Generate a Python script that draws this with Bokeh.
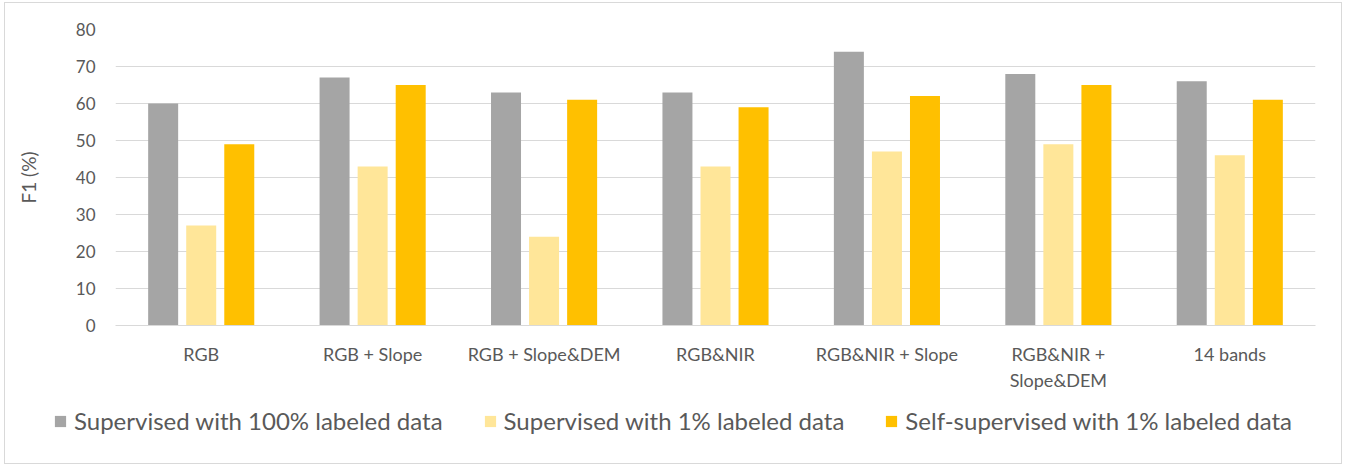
from bokeh.plotting import figure
from bokeh.layouts import column
from bokeh.models import FactorRange, Range1d, FixedTicker, Legend, LegendItem, ColumnDataSource
from bokeh.transform import dodge
from bokeh.embed import file_html
from bokeh.resources import INLINE

categories = ["RGB", "RGB + Slope", "RGB + Slope&DEM", "RGB&NIR", "RGB&NIR + Slope",
              "RGB&NIR +\nSlope&DEM", "14 bands"]
sup_100 = [60, 67, 63, 63, 74, 68, 66]
sup_1 = [27, 43, 24, 43, 47, 49, 46]
selfsup_1 = [49, 65, 61, 59, 62, 65, 61]
series_names = ["Supervised with 100% labeled data", "Supervised with 1% labeled data",
                "Self-supervised with 1% labeled data"]
colors = ["#a5a5a5", "#ffe699", "#ffc000"]
y_ticks = [0, 10, 20, 30, 40, 50, 60, 70, 80]

FONT = "Lato"
TXT = "#595959"

src = ColumnDataSource(dict(cat=categories, a=sup_100, b=sup_1, c=selfsup_1))
cols = ["a", "b", "c"]
offsets = [-0.222, 0.0, 0.222]

p = figure(width=1336, height=390, x_range=FactorRange(*categories, range_padding=0),
           y_range=Range1d(0, 80), output_backend="svg", toolbar_location=None,
           min_border_left=110, min_border_right=26, min_border_top=26, min_border_bottom=64)
p.outline_line_color = None
p.frame_align = False

for col, off, c in zip(cols, offsets, colors):
    p.vbar(x=dodge("cat", off, range=p.x_range), top=col, width=0.175, source=src,
           fill_color=c, line_color=None)

p.xgrid.grid_line_color = None
p.ygrid.grid_line_color = "#d9d9d9"
p.ygrid.grid_line_width = 1
p.yaxis.ticker = FixedTicker(ticks=y_ticks)
p.yaxis.axis_line_color = None
p.yaxis.major_tick_line_color = None
p.yaxis.minor_tick_line_color = None
p.yaxis.major_label_text_font = FONT
p.yaxis.major_label_text_font_size = "17px"
p.yaxis.major_label_text_color = TXT
p.yaxis.major_label_standoff = 14
p.yaxis.axis_label = "F1 (%)"
p.yaxis.axis_label_text_font = FONT
p.yaxis.axis_label_text_font_size = "19px"
p.yaxis.axis_label_text_font_style = "normal"
p.yaxis.axis_label_text_color = TXT
p.yaxis.axis_label_standoff = 33

p.xaxis.axis_line_color = "#d9d9d9"
p.xaxis.major_tick_line_color = None
p.xaxis.minor_tick_line_color = None
p.xaxis.major_label_text_font = FONT
p.xaxis.major_label_text_font_size = "18px"
p.xaxis.major_label_text_color = TXT
p.xaxis.major_label_standoff = 11

# legend strip (its renderers are hidden; only the legend shows)
p2 = figure(width=1336, height=70, x_range=FactorRange(*categories), y_range=Range1d(-2000, -1999),
            output_backend="svg", toolbar_location=None,
            min_border_left=0, min_border_right=0, min_border_top=0, min_border_bottom=0)
p2.frame_align = False
p2.axis.visible = False
p2.grid.grid_line_color = None
p2.outline_line_color = None
items = []
for n, col, off, c in zip(series_names, cols, offsets, colors):
    r = p2.vbar(x=dodge("cat", off, range=p2.x_range), top=col, width=0.175, source=src,
                fill_color=c, line_color=None)
    r.visible = False
    items.append(LegendItem(label=n, renderers=[r]))

legend = Legend(items=items, orientation="horizontal", location=(48, 28))
legend.label_text_font = FONT
legend.label_text_font_size = "24px"
legend.label_text_color = TXT
legend.glyph_width = 14
legend.glyph_height = 14
legend.label_standoff = 7
legend.spacing = 40
legend.padding = 10
legend.margin = 0
legend.border_line_color = None
legend.background_fill_alpha = 0
legend.inactive_fill_alpha = 0
p2.add_layout(legend, "center")

layout = column(p, p2, spacing=0)
layout.styles = {"border": "1px solid #d9d9d9", "margin-left": "4px", "margin-top": "2px"}

open("out.html", "w").write(file_html(layout, INLINE))
